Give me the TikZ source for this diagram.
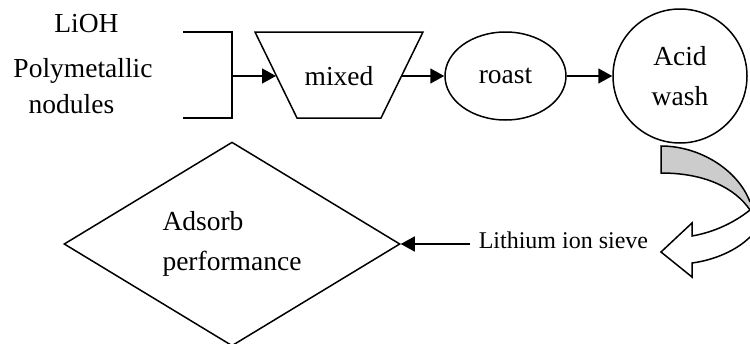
\documentclass[tikz,border=0pt]{standalone}
\usepackage{fontspec}
\setmainfont{Liberation Serif}
\usetikzlibrary{arrows.meta,shapes.geometric}
\definecolor{bandgray}{RGB}{204,204,204}
\begin{document}
\begin{tikzpicture}[x=1pt,y=-1pt,line width=1.5pt,
  every node/.style={font=\fontsize{27.5}{40}\selectfont},
  arr/.style={-{Triangle[length=14pt,width=15pt]}},
  oval/.style={ellipse,draw,minimum width=121pt,minimum height=88pt,inner sep=0pt},
  round/.style={circle,draw,minimum size=134pt,inner sep=0pt,align=center},
  decide/.style={diamond,draw,minimum width=336pt,minimum height=200pt,inner sep=0pt,align=left},
  small/.style={font=\fontsize{24}{28}\selectfont}]
\useasboundingbox (0,0) rectangle (750,343);
\clip (0,0) rectangle (750,343);
% input labels
\node[anchor=base] (t1) at (86.5,32) {LiOH};
\node[anchor=base] (t2) at (83,77) {Polymetallic};
\node[anchor=base] (t3) at (71.5,113) {nodules};
% bracket
\draw (183,32) -- (232,32) -- (232,118) -- (183,118);
\coordinate (jn) at (232,76);
% mixed (trapezoid)
\node (mix) at (339,76) {mixed};
\draw (255,32) -- (423,32) -- (381,118) -- (297,118) -- cycle;
\coordinate (mixin) at (276,76);
\coordinate (mixout) at (402,76);
% other process nodes
\node[oval] (roast) at (505.5,76) {roast};
\node[round] (acid) at (680,76) {Acid\\wash};
\draw[arr] (jn) -- (mixin);
\draw[arr] (mixout) -- (roast);
\draw[arr] (roast) -- (acid);
% diamond and sieve
\node[decide] (dia) at (232,244) {Adsorb\\performance};
\node[small,anchor=base west,inner xsep=8pt] (sieve) at (470,248) {Lithium ion sieve};
\draw[arr] (sieve.west |- dia.east) -- (dia.east);
% curved arrow
\fill[bandgray] (661,146) .. controls (700,146) and (738,170) .. (750,202) -- (750,210) .. controls (735,188) and (705,173) .. (661,173) -- cycle;
\draw (750,202) .. controls (738,170) and (700,146) .. (661,146) -- (661,173) .. controls (705,173) and (735,188) .. (750,210);
\filldraw[fill=white] (750,210) .. controls (735,222) and (715,232) .. (692,236) -- (692,223) -- (661,252) -- (692,277) -- (692,263) .. controls (715,260) and (737,250) .. (750,237);
\end{tikzpicture}
\end{document}
